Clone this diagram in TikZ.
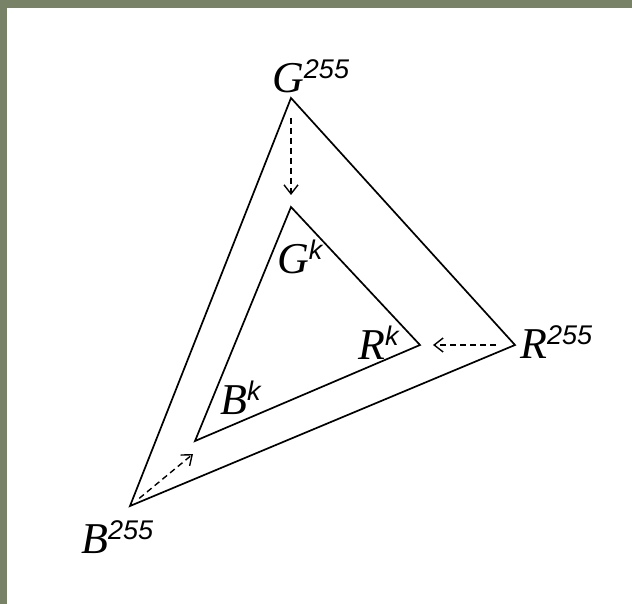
\documentclass[tikz,border=0pt]{standalone}
\usepackage{fontspec}
\setmainfont{Liberation Serif}
\setsansfont{Liberation Sans}
\usetikzlibrary{arrows.meta}

\definecolor{frame}{HTML}{778267}
\newcommand{\vlab}[2]{\fontsize{44}{44}\selectfont\textit{#1}\raisebox{14pt}{\fontsize{27}{27}\selectfont\sffamily\itshape #2}}

\begin{document}
\begin{tikzpicture}[x=1pt, y=-1pt,
    tri/.style={line width=1.7pt, line join=miter},
    flow/.style={line width=1.4pt, dash pattern=on 6pt off 4pt,
        -{Straight Barb[length=9pt, width=14pt, line width=1.4pt]}},
    lbl/.style={inner sep=0pt, anchor=base west}]
    \useasboundingbox (0,0) rectangle (632,604);
    \fill[white] (0,0) rectangle (632,604);
    \fill[frame] (0,0) rectangle (632,8);
    \fill[frame] (0,0) rectangle (7,604);

    % outer and inner triangle
    \coordinate (G255) at (291,98);
    \coordinate (R255) at (515,345);
    \coordinate (B255) at (130,506);
    \coordinate (Gk) at (291,207);
    \coordinate (Rk) at (420,345);
    \coordinate (Bk) at (195,441);
    \draw[tri] (G255) -- (R255) -- (B255) -- cycle;
    \draw[tri] (Gk) -- (Rk) -- (Bk) -- cycle;

    % labels
    \node[lbl] (gOut) at (272,93) {\vlab{G}{255}};
    \node[lbl] (rOut) at (520,358) {\vlab{R}{255}};
    \node[lbl] (bOut) at (81,553) {\vlab{B}{255}};
    \node[lbl] (gIn) at (277,273) {\vlab{G}{k}};
    \node[lbl] (rIn) at (358,359) {\vlab{R}{k}};
    \node[lbl] (bIn) at (220,414) {\vlab{B}{k}};

    % shrinking arrows
    \coordinate (bTip) at (193,454);
    \draw[flow, shorten <=20pt, shorten >=12pt] (G255) -- (Gk);
    \draw[flow, shorten <=19pt, shorten >=13pt] (R255) -- (Rk);
    \draw[flow, shorten <=12pt] (B255) -- (bTip);
\end{tikzpicture}
\end{document}
